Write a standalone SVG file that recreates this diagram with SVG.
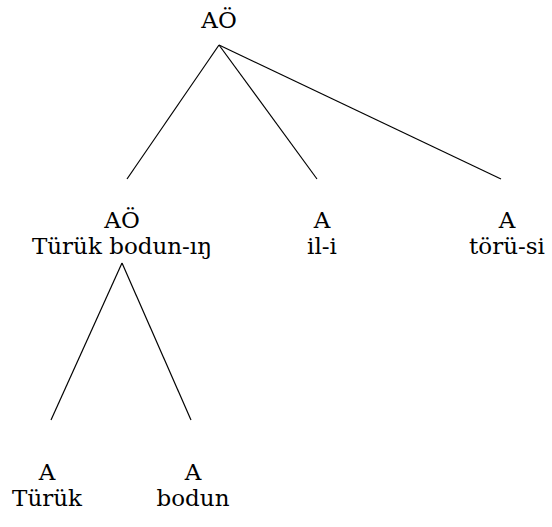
<svg xmlns="http://www.w3.org/2000/svg" width="552" height="527" viewBox="0 0 552 527">
  <style>
    .lbl { font-family: "DejaVu Serif", "Liberation Serif", serif; font-size: 23px; fill: #000; text-anchor: middle; }
    .edge { stroke: #000; stroke-width: 1.2; fill: none; }
  </style>
  <rect width="552" height="527" fill="#fff"/>
  <g id="edges">
    <line class="edge" x1="219" y1="45" x2="127" y2="179"/>
    <line class="edge" x1="219" y1="45" x2="317" y2="179"/>
    <line class="edge" x1="219" y1="45" x2="501" y2="179"/>
    <line class="edge" x1="122" y1="263" x2="51" y2="420"/>
    <line class="edge" x1="122" y1="263" x2="191" y2="420"/>
  </g>
  <g id="root">
    <text class="lbl" x="219" y="28">AÖ</text>
  </g>
  <g id="np">
    <text class="lbl" x="122" y="228">AÖ</text>
    <text class="lbl" x="122" y="254">Türük bodun-ıŋ</text>
  </g>
  <g id="il">
    <text class="lbl" x="322" y="228">A</text>
    <text class="lbl" x="322" y="254">il-i</text>
  </g>
  <g id="toru">
    <text class="lbl" x="507" y="228">A</text>
    <text class="lbl" x="507" y="254">törü-si</text>
  </g>
  <g id="turuk">
    <text class="lbl" x="47" y="480">A</text>
    <text class="lbl" x="47" y="506">Türük</text>
  </g>
  <g id="bodun">
    <text class="lbl" x="193" y="480">A</text>
    <text class="lbl" x="193" y="506">bodun</text>
  </g>
</svg>
